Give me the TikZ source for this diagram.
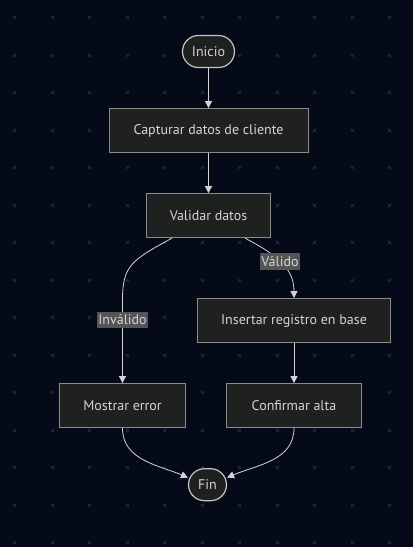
\documentclass[tikz,border=0pt]{standalone}
\usepackage{fontspec}
\setmainfont{PT Sans}
\usetikzlibrary{shapes.geometric, arrows.meta, positioning, calc}
\usepackage{xcolor}
\definecolor{fondo}{HTML}{050A18}
\definecolor{punto}{HTML}{1E2333}
\definecolor{caja}{HTML}{1F2020}
\definecolor{borde}{HTML}{8C8C8C}
\definecolor{bordeterm}{HTML}{C4C4C4}
\definecolor{texto}{HTML}{D4D4D4}
\definecolor{etiq}{HTML}{555555}

\begin{document}
\begin{tikzpicture}[x=1pt, y=-1pt, node distance=40pt, >=Triangle,
		block/.style={rectangle, draw=borde, fill=caja, text=texto, line width=1pt, minimum height=44pt, font=\fontsize{14}{16}\selectfont},
		terminal/.style={rectangle, rounded corners=16pt, draw=bordeterm, fill=caja, text=texto, line width=1.2pt, minimum height=32pt, font=\fontsize{14}{16}\selectfont},
		line/.style={draw=texto, line width=0.8pt, -{Triangle[length=7pt,width=7pt]}},
		lbl/.style={fill=etiq, text=texto, inner xsep=1.5pt, inner ysep=3pt, font=\fontsize{14}{16}\selectfont}]
		
		% Fondo
		\fill[fondo] (0,0) rectangle (413,547);
		\useasboundingbox (0,0) rectangle (413,547);
		\foreach \i in {0,...,10}
			\foreach \j in {0,...,14}
				\fill[punto] ({13+37.5*\i},{16+37.5*\j}) rectangle ++(3,3);
		
		\node [terminal, minimum width=52pt] (inicio) at (208.5,51.5) {Inicio};
		\node [block, minimum width=199pt, below=of inicio] (capturar) {Capturar datos de cliente};
		\node [block, minimum width=124pt, below=of capturar] (validar) {Validar datos};
		\node [block, minimum width=193pt, below=60pt of validar, xshift=85.5pt] (insertar) {Insertar registro en base};
		\node [block, minimum width=135pt, below=of insertar] (confirmar) {Confirmar alta};
		\node [block, minimum width=126pt, below=145pt of validar, xshift=-86pt] (mostrar) {Mostrar error};
		\node [terminal, minimum width=38pt, below=40pt of confirmar, xshift=-86.5pt] (fin) {Fin};
		
		% Enlaces
		\path [line] (inicio) -- (capturar);
		\path [line] (capturar) -- (validar);
		\path [line] ([xshift=36.5pt]validar.south) .. controls +(32pt,-17pt) and +(0pt,30pt) .. node [lbl, pos=0.47] {Válido} (insertar.north);
		\path [line] ([xshift=-36.5pt]validar.south) .. controls +(-40pt,-22pt) and +(0pt,35pt) .. ([yshift=83pt]mostrar.north) -- node [lbl, pos=0.24] {Inválido} (mostrar.north);
		\path [line] (insertar) -- (confirmar);
		\path [line] (mostrar.south) to [out=-90, in=157] (fin.160);
		\path [line] (confirmar.south) to [out=-90, in=23] (fin.20);
		
	\end{tikzpicture}
\end{document}
